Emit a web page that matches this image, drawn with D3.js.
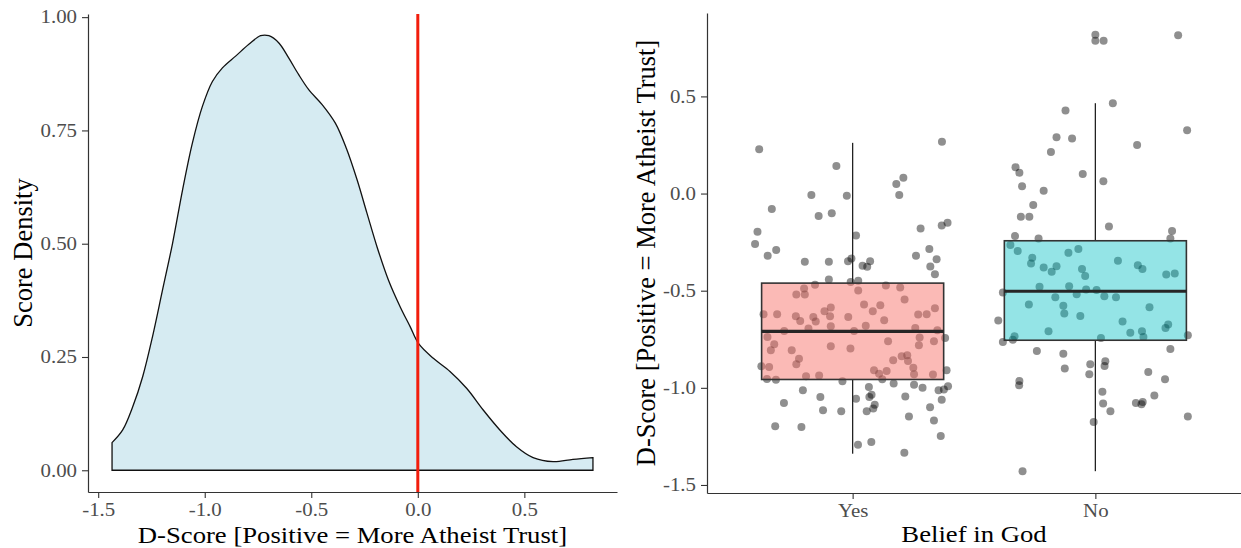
<!DOCTYPE html>
<html>
<head>
<meta charset="utf-8">
<script src="https://cdn.jsdelivr.net/npm/d3@7"></script>
<style>
body { margin: 0; background: #fff; }
svg { display: block; }
text { font-family: "Liberation Serif", "Times New Roman", serif; }
</style>
</head>
<body>
<svg id="chart"></svg>
<script>
// density curve of the D-scores
var densityX = [-1.435, -1.385, -1.338, -1.291, -1.245, -1.198, -1.151, -1.104, -1.058, -1.011, -0.964, -0.917, -0.855, -0.793, -0.738, -0.699, -0.652, -0.606, -0.559, -0.512, -0.449, -0.387, -0.335, -0.285, -0.239, -0.192, -0.138, -0.083, -0.036, 0.003, 0.073, 0.151, 0.229, 0.307, 0.385, 0.463, 0.541, 0.635, 0.728, 0.822]
var densityY = [0.061, 0.089, 0.14, 0.207, 0.295, 0.398, 0.501, 0.619, 0.722, 0.803, 0.858, 0.888, 0.914, 0.94, 0.959, 0.959, 0.943, 0.91, 0.873, 0.84, 0.807, 0.766, 0.71, 0.641, 0.568, 0.494, 0.42, 0.361, 0.317, 0.28, 0.247, 0.218, 0.181, 0.133, 0.089, 0.052, 0.028, 0.019, 0.024, 0.028]

var densityTicks = [0, 0.25, 0.5, 0.75, 1]
var scoreTicks = [-1.5, -1.0, -0.5, 0.0, 0.5]
var refLine = 0

// boxplot summary per group
var groups = ["Yes", "No"]
var whiskerLow = [-1.339, -1.429]
var boxLow = [-0.957, -0.755]
var boxMid = [-0.709, -0.503]
var boxHigh = [-0.461, -0.243]
var whiskerHigh = [0.261, 0.465]

// jittered points: [horizontal jitter (category units), score]
var yesPoints = [
  [-0.385,0.228],[0.368,0.267],[-0.067,0.142],[0.209,0.081],[0.18,0.049],[0.192,-0.008],[-0.17,-0.008],[-0.024,-0.011],
  [-0.333,-0.08],[-0.14,-0.116],[-0.086,-0.102],[-0.392,-0.197],[-0.402,-0.26],[-0.35,-0.32],[-0.315,-0.291],[0.014,-0.216],
  [0.28,-0.18],[0.367,-0.164],[0.391,-0.15],[-0.197,-0.351],[-0.098,-0.351],[-0.019,-0.348],[-0.005,-0.334],[0.041,-0.372],
  [0.06,-0.377],[0.072,-0.348],[0.261,-0.32],[0.316,-0.286],[0.346,-0.338],[0.32,-0.375],[0.339,-0.415],[-0.098,-0.442],
  [-0.008,-0.455],[0.023,-0.449],
  [-0.155,-0.47],[-0.2,-0.489],[-0.232,-0.52],[-0.197,-0.52],[0.023,-0.499],[0.137,-0.473],[0.196,-0.484],[0.214,-0.545],
  [-0.367,-0.621],[-0.311,-0.621],[-0.234,-0.631],[-0.216,-0.656],[-0.162,-0.635],[-0.152,-0.659],[-0.116,-0.606],[-0.09,-0.587],
  [-0.093,-0.631],[-0.018,-0.635],[0.047,-0.571],[0.083,-0.606],[0.114,-0.575],[0.13,-0.652],[0.054,-0.681],[0.27,-0.623],
  [0.305,-0.621],[0.339,-0.59],[0.258,-0.692],[-0.09,-0.683],[-0.282,-0.707],[-0.182,-0.695],[0.006,-0.707],[0.349,-0.704],
  [-0.351,-0.738],[-0.323,-0.776],[-0.337,-0.807],[-0.251,-0.807],[-0.221,-0.85],[-0.232,-0.879],[-0.09,-0.786],[-0.009,-0.798],
  [0.146,-0.76],[0.276,-0.741],[0.273,-0.781],[0.335,-0.76],[0.381,-0.743],[0.167,-0.858],[0.202,-0.838],[0.225,-0.832],
  [0.228,-0.862],[0.25,-0.896],
  [-0.376,-0.889],[-0.344,-0.893],[-0.353,-0.955],[-0.316,-0.958],[-0.192,-0.941],[-0.138,-0.936],[0.088,-0.91],[0.109,-0.927],
  [0.14,-0.913],[0.122,-0.956],[0.253,-0.93],[0.331,-0.932],[0.387,-0.91],
  [-0.042,-0.966],[-0.205,-1.013],[-0.133,-1.047],[-0.283,-1.078],[-0.122,-1.116],[-0.047,-1.121],[0.067,-0.996],[0.069,-1.047],
  [0.078,-1.035],[0.014,-1.056],[0.091,-1.087],[0.085,-1.106],[0.058,-1.12],[0.169,-0.978],[0.253,-0.984],[0.288,-0.999],
  [0.217,-1.044],[0.354,-1.013],[0.376,-1.009],[0.393,-0.992],[0.367,-1.061],[0.319,-1.1],[0.232,-1.147],[0.335,-1.168],
  [0.363,-1.248],[-0.319,-1.198],[-0.211,-1.202],[0.022,-1.293],[0.077,-1.279],[0.213,-1.334]
]
var noPoints = [
  [0,0.817],[0,0.786],[0.034,0.786],[0.341,0.815],[0.072,0.465],[-0.123,0.427],[0.378,0.326],[-0.16,0.29],
  [-0.096,0.283],[0.172,0.25],[-0.183,0.214],[-0.329,0.135],[-0.313,0.107],[-0.052,0.1],[0.033,0.063],[-0.302,0.037],
  [-0.213,0.014],[-0.256,-0.059],[-0.307,-0.12],[-0.272,-0.12],[0.056,-0.169],[-0.331,-0.219],[0.316,-0.193],[0.309,-0.231],
  [-0.234,-0.231],
  [-0.35,-0.265],[-0.32,-0.296],[-0.26,-0.331],[-0.265,-0.36],[-0.213,-0.38],[-0.18,-0.403],[-0.16,-0.374],[-0.111,-0.305],
  [-0.07,-0.285],[-0.055,-0.388],[-0.042,-0.424],[0.093,-0.346],[0.175,-0.369],[0.194,-0.388],[0.292,-0.417],[0.327,-0.412],
  [-0.23,-0.48],[-0.108,-0.477],[-0.077,-0.518],[-0.038,-0.494],[0.005,-0.497],[0.037,-0.528],[0.085,-0.534],[-0.165,-0.534],
  [-0.381,-0.509],[-0.274,-0.571],[-0.132,-0.578],[-0.128,-0.618],[-0.062,-0.63],[0.223,-0.585],[-0.4,-0.654],[0.112,-0.659],
  [-0.193,-0.709],[0.144,-0.716],[0.192,-0.709],[0.198,-0.738],[0.289,-0.692],[0.3,-0.674],[0.023,-0.743],[-0.333,-0.735],
  [-0.34,-0.752],[-0.381,-0.764],[0.381,-0.729],
  [0.309,-0.8],[-0.241,-0.81],[-0.132,-0.824],[-0.126,-0.901],[-0.021,-0.879],[-0.025,-0.93],[0.041,-0.863],[0.038,-0.888],
  [-0.313,-0.965],[-0.314,-0.987],[0.218,-0.919],[0.287,-0.956],[0.029,-1.02],[0.032,-1.08],[0.062,-1.121],[0.167,-1.078],
  [0.19,-1.085],[0.195,-1.073],[0.243,-1.04],[0.381,-1.147],[-0.007,-1.176],[-0.3,-1.429]
]
var groupPoints = [yesPoints, noPoints]

var screen = {width:1241, height:548}
var stretch = 1.16   // the source picture is a bit wider than tall

// ggplot-like 5% padding
var expand = function(ext)
{
    var pad = (ext[1] - ext[0]) * 0.05
    return [ext[0] - pad, ext[1] + pad]
}

// stretch text sideways like the reference
var widen = function(sel)
{
    sel.each(function()
    {
        var w = this.getComputedTextLength()
        d3.select(this)
            .attr("textLength", w * stretch)
            .attr("lengthAdjust", "spacingAndGlyphs")
    })
}

var styleAxis = function(g)
{
    g.select(".domain").attr("stroke", "#333").attr("stroke-width", 1.2)
    g.selectAll(".tick line").attr("stroke", "#333").attr("stroke-width", 1.1)
    g.selectAll(".tick text")
        .attr("fill", "#4d4d4d")
        .attr("font-size", 18)
        .call(widen)
}

var svg = d3.select("#chart")
    .attr("width", screen.width)
    .attr("height", screen.height)

// ---------- left: density ----------
var densPanel = {left:88, right:617, top:14, bottom:492}

var xScale = d3.scaleLinear()
    .domain(expand(d3.extent(densityX)))
    .range([densPanel.left, densPanel.right])

var yDens = d3.scaleLinear()
    .domain(expand([0, d3.max(densityY)]))
    .range([densPanel.bottom, densPanel.top])

var area = d3.area()
    .x(function(d, i) { return xScale(densityX[i]) })
    .y0(yDens(0))
    .y1(function(d, i) { return yDens(densityY[i]) })
    .curve(d3.curveCatmullRom)

svg.append("path")
    .datum(densityX)
    .attr("d", area)
    .attr("fill", "#d6ebf2")
    .attr("stroke", "#111")
    .attr("stroke-width", 1.3)

svg.append("line")
    .attr("x1", xScale(refLine))
    .attr("x2", xScale(refLine))
    .attr("y1", densPanel.top)
    .attr("y2", densPanel.bottom)
    .attr("stroke", "#f21d0c")
    .attr("stroke-width", 3)

svg.append("g")
    .attr("transform", "translate(0," + densPanel.bottom + ")")
    .call(d3.axisBottom(xScale).tickValues(scoreTicks)
        .tickFormat(function(d) { return d.toFixed(1) })
        .tickSize(6).tickPadding(5).tickSizeOuter(0))
    .call(styleAxis)

svg.append("g")
    .attr("transform", "translate(" + densPanel.left + ",0)")
    .call(d3.axisLeft(yDens).tickValues(densityTicks)
        .tickFormat(function(d) { return d.toFixed(2) })
        .tickSize(6).tickPadding(5).tickSizeOuter(0))
    .call(styleAxis)

svg.append("text")
    .attr("x", (densPanel.left + densPanel.right) / 2)
    .attr("y", 543)
    .attr("text-anchor", "middle")
    .attr("font-size", 23)
    .text("D-Score [Positive = More Atheist Trust]")
    .call(widen)

svg.append("text")
    .attr("transform", "translate(32," + (densPanel.top + densPanel.bottom) / 2 + ") rotate(-90)")
    .attr("text-anchor", "middle")
    .attr("font-size", 26.5)
    .text("Score Density")

// ---------- right: boxplot ----------
var boxPanel = {left:707, right:1241, top:13, bottom:493}
var allScores = yesPoints.concat(noPoints).map(function(p) { return p[1] })

var xBand = d3.scalePoint()
    .domain(groups)
    .range([boxPanel.left, boxPanel.right])
    .padding(0.6)
var step = xBand.step()

var yScore = d3.scaleLinear()
    .domain(expand(d3.extent(allScores)))
    .range([boxPanel.bottom, boxPanel.top])

var fills = ["rgba(248,118,109,0.5)", "rgba(0,191,196,0.42)"]

groups.forEach(function(name, gi)
{
    var cx = xBand(name)
    svg.append("g")
        .selectAll("circle")
        .data(groupPoints[gi])
        .enter()
        .append("circle")
        .attr("cx", function(p) { return cx + p[0] * step })
        .attr("cy", function(p) { return yScore(p[1]) })
        .attr("r", 4)
        .attr("fill", "#000")
        .attr("fill-opacity", 0.44)
})

var half = step * 0.375
var boxes = svg.append("g")
    .selectAll("g")
    .data(groups)
    .enter()
    .append("g")

boxes.append("line")
    .attr("x1", function(d) { return xBand(d) })
    .attr("x2", function(d) { return xBand(d) })
    .attr("y1", function(d, i) { return yScore(whiskerHigh[i]) })
    .attr("y2", function(d, i) { return yScore(boxHigh[i]) })
    .attr("stroke", "#222").attr("stroke-width", 1.3)

boxes.append("line")
    .attr("x1", function(d) { return xBand(d) })
    .attr("x2", function(d) { return xBand(d) })
    .attr("y1", function(d, i) { return yScore(boxLow[i]) })
    .attr("y2", function(d, i) { return yScore(whiskerLow[i]) })
    .attr("stroke", "#222").attr("stroke-width", 1.3)

boxes.append("rect")
    .attr("x", function(d) { return xBand(d) - half })
    .attr("width", half * 2)
    .attr("y", function(d, i) { return yScore(boxHigh[i]) })
    .attr("height", function(d, i) { return yScore(boxLow[i]) - yScore(boxHigh[i]) })
    .attr("fill", function(d, i) { return fills[i] })
    .attr("stroke", "#333")
    .attr("stroke-width", 1.6)

boxes.append("line")
    .attr("x1", function(d) { return xBand(d) - half })
    .attr("x2", function(d) { return xBand(d) + half })
    .attr("y1", function(d, i) { return yScore(boxMid[i]) })
    .attr("y2", function(d, i) { return yScore(boxMid[i]) })
    .attr("stroke", "#262626").attr("stroke-width", 3.2)

svg.append("g")
    .attr("transform", "translate(0," + boxPanel.bottom + ")")
    .call(d3.axisBottom(xBand).tickSize(6).tickPadding(5).tickSizeOuter(0))
    .call(styleAxis)

svg.append("g")
    .attr("transform", "translate(" + boxPanel.left + ",0)")
    .call(d3.axisLeft(yScore).tickValues(scoreTicks)
        .tickFormat(function(d) { return d.toFixed(1) })
        .tickSize(6).tickPadding(5).tickSizeOuter(0))
    .call(styleAxis)

svg.append("text")
    .attr("x", (boxPanel.left + boxPanel.right) / 2)
    .attr("y", 542)
    .attr("text-anchor", "middle")
    .attr("font-size", 23)
    .text("Belief in God")
    .call(widen)

svg.append("text")
    .attr("transform", "translate(655," + (boxPanel.top + boxPanel.bottom) / 2 + ") rotate(-90)")
    .attr("text-anchor", "middle")
    .attr("font-size", 26.5)
    .text("D-Score [Positive = More Atheist Trust]")
</script>
</body>
</html>
